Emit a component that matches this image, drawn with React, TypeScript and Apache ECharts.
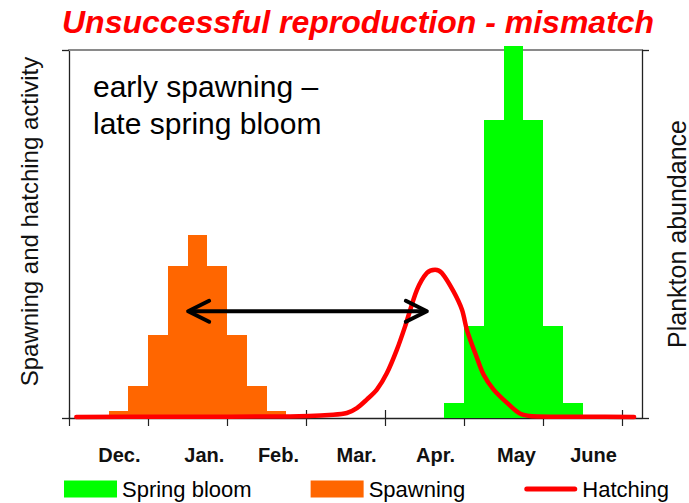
import { useEffect, useRef } from "react";
import * as echarts from "echarts";

const FONT = '"Liberation Sans", Arial, Helvetica, sans-serif';

// x unit = one histogram bin (4 bins per tick interval)
const xMin = 0;
const xMax = 29;
const tickPositions = [0, 4, 8, 12, 16, 20, 24, 28];
const monthLabels = ["Dec.", "Jan.", "Feb.", "Mar.", "Apr.", "May", "June"];
const monthPositions = [2.55, 6.85, 10.6, 14.55, 18.55, 22.65, 26.55];

// Spawning histogram (bin start, value)
const spawningBins = [2, 3, 4, 5, 6, 7, 8, 9, 10];
const spawningValues = [2, 8.6, 22.6, 41.2, 49.6, 41.2, 22.6, 8.6, 2];

// Spring bloom histogram (bin start, value) – right axis
const bloomBins = [19, 20, 21, 22, 23, 24, 25];
const bloomValues = [4.1, 24.9, 81, 101.2, 81, 24.9, 4.1];

// Hatching curve
const hatchingX = [0.37, 5, 11.19, 13.37, 14.06, 14.57, 15.07, 15.58, 16.09, 16.59, 17.01, 17.61, 18.11, 18.53, 18.87, 19.46, 19.89, 20.14, 20.56, 20.98, 21.49, 22.17, 22.84, 23.69, 26, 28.6];
const hatchingY = [0.3, 0.35, 0.43, 0.9, 1.36, 2.7, 5.0, 7.7, 12.2, 18.5, 24.9, 34.8, 39.4, 40.3, 39.4, 34.4, 29.4, 23.9, 17.6, 11.8, 7.7, 4.1, 1.17, 0.43, 0.35, 0.3];

// Double-headed arrow (mismatch)
const arrowFrom = 6.03;
const arrowTo = 18.11;
const arrowLevel = 29;

const COLORS = { bloom: "#00ff00", spawning: "#ff6600", hatching: "#ff0000" };

function histRender(color: string) {
  return (params: any, api: any) => {
    const x0 = api.value(0);
    const v = api.value(1);
    const p0 = api.coord([x0, 0]);
    const p1 = api.coord([x0 + 1, v]);
    const left = Math.round(p0[0]);
    const right = Math.round(p1[0]);
    const top = Math.round(p1[1]);
    const bottom = Math.round(p0[1]);
    return {
      type: "rect",
      shape: { x: left, y: top, width: right - left, height: bottom - top },
      style: { fill: color },
    };
  };
}

export default function App() {
  const ref = useRef<HTMLDivElement>(null);
  useEffect(() => {
    document.body.style.margin = "0";
    if (!ref.current) return;
    const chart = echarts.init(ref.current, null, { renderer: "svg" });
    const axisColor = "#222";
    const yAxisBase = {
      type: "value",
      min: 0,
      max: 100,
      interval: 100,
      axisLine: { show: true, onZero: false, lineStyle: { color: axisColor, width: 1.3 } },
      axisTick: { show: true, inside: false, length: 7, lineStyle: { color: axisColor, width: 1.3 } },
      axisLabel: { show: false },
      splitLine: { show: false },
      nameLocation: "middle",
      nameRotate: 90,
    };
    const option: any = {
      animation: false,
      title: {
        text: "Unsuccessful reproduction - mismatch",
        left: 62,
        top: 6,
        padding: 0,
        textStyle: { color: "#ff0000", fontSize: 32, fontWeight: "bold", fontStyle: "italic", fontFamily: FONT },
      },
      grid: { left: 69, right: 47, top: 50, bottom: 85, containLabel: false, outerBoundsMode: "none" },
      legend: {
        left: 64,
        top: 478,
        padding: 0,
        itemWidth: 53,
        itemHeight: 17,
        itemGap: 59,
        textStyle: { fontSize: 22, fontFamily: FONT, color: "#000" },
        data: [
          { name: "Spring bloom", icon: "rect" },
          { name: "Spawning", icon: "rect" },
          {
            name: "Hatching",
            icon: "path://M2.5,0H50.5A2.5,2.5,0,0,1,50.5,5H2.5A2.5,2.5,0,0,1,2.5,0Z",
            itemStyle: { color: COLORS.hatching },
          },
        ],
      },
      xAxis: [
        {
          type: "value",
          position: "bottom",
          min: xMin,
          max: xMax,
          axisLine: { show: true, onZero: false, lineStyle: { color: axisColor, width: 1.3 } },
          axisTick: { show: true, inside: true, length: 8, customValues: tickPositions, lineStyle: { color: axisColor, width: 1.2 } },
          axisLabel: {
            show: true,
            customValues: monthPositions,
            margin: 27,
            fontSize: 20,
            fontWeight: "bold",
            fontFamily: FONT,
            color: "#111",
            formatter: (val: number) => {
              const i = monthPositions.findIndex((p) => Math.abs(p - val) < 1e-6);
              return i >= 0 ? monthLabels[i] : "";
            },
          },
          splitLine: { show: false },
        },
        {
          type: "value",
          position: "bottom",
          min: xMin,
          max: xMax,
          axisLine: { show: false, onZero: false },
          axisTick: { show: true, inside: false, length: 8, customValues: tickPositions, lineStyle: { color: axisColor, width: 1.2 } },
          axisLabel: { show: false },
          splitLine: { show: false },
        },
        {
          type: "value",
          position: "top",
          min: xMin,
          max: xMax,
          axisLine: { show: true, onZero: false, lineStyle: { color: "#8a8a8a", width: 2 } },
          axisTick: { show: false },
          axisLabel: { show: false },
          splitLine: { show: false },
        },
      ],
      yAxis: [
        {
          ...yAxisBase,
          position: "left",
          name: "Spawning and hatching activity",
          nameGap: 28,
          nameTextStyle: { fontSize: 24, fontFamily: FONT, color: "#111", padding: [0, 0, 0, 25] },
        },
        {
          ...yAxisBase,
          position: "right",
          name: "Plankton abundance",
          nameGap: 22,
          nameTextStyle: { fontSize: 25, fontFamily: FONT, color: "#111" },
        },
      ],
      series: [
        {
          name: "Spring bloom",
          type: "custom",
          xAxisIndex: 0,
          yAxisIndex: 1,
          clip: false,
          z: 2,
          itemStyle: { color: COLORS.bloom },
          encode: { x: 0, y: 1 },
          renderItem: histRender(COLORS.bloom),
          data: bloomBins.map((b, i) => [b, bloomValues[i]]),
        },
        {
          name: "Spawning",
          type: "custom",
          xAxisIndex: 0,
          yAxisIndex: 0,
          z: 2,
          itemStyle: { color: COLORS.spawning },
          encode: { x: 0, y: 1 },
          renderItem: histRender(COLORS.spawning),
          data: spawningBins.map((b, i) => [b, spawningValues[i]]),
        },
        {
          name: "Hatching",
          type: "line",
          xAxisIndex: 0,
          yAxisIndex: 0,
          z: 3,
          smooth: 0.3,
          symbol: "none",
          clip: false,
          itemStyle: { color: COLORS.hatching },
          lineStyle: { color: COLORS.hatching, width: 4.5, cap: "round", join: "round" },
          data: hatchingX.map((x, i) => [x, hatchingY[i]]),
        },
        {
          name: "mismatch",
          type: "custom",
          xAxisIndex: 0,
          yAxisIndex: 0,
          z: 4,
          clip: false,
          encode: { x: [0, 1], y: 2 },
          renderItem: (params: any, api: any) => {
            const a = api.coord([api.value(0), api.value(2)]);
            const b = api.coord([api.value(1), api.value(2)]);
            const L = 21;
            const H = 10.5;
            const st = { stroke: "#000", lineWidth: 4, fill: null, lineCap: "round", lineJoin: "round" };
            return {
              type: "group",
              children: [
                { type: "line", shape: { x1: a[0] + 2, y1: a[1], x2: b[0] - 2, y2: b[1] }, style: { stroke: "#000", lineWidth: 4 } },
                { type: "polyline", shape: { points: [[a[0] + L, a[1] - H], [a[0], a[1]], [a[0] + L, a[1] + H]] }, style: st },
                { type: "polyline", shape: { points: [[b[0] - L, b[1] - H], [b[0], b[1]], [b[0] - L, b[1] + H]] }, style: st },
              ],
            };
          },
          data: [[arrowFrom, arrowTo, arrowLevel]],
        },
      ],
      graphic: [
        {
          type: "text",
          left: 93,
          top: 68,
          z: 10,
          style: {
            text: "early spawning –\nlate spring bloom",
            fontSize: 30,
            lineHeight: 37,
            fontFamily: FONT,
            fill: "#000",
          },
        },
      ],
    };
    chart.setOption(option);
    return () => chart.dispose();
  }, []);
  return <div ref={ref} style={{ width: 689, height: 503 }} />;
}
